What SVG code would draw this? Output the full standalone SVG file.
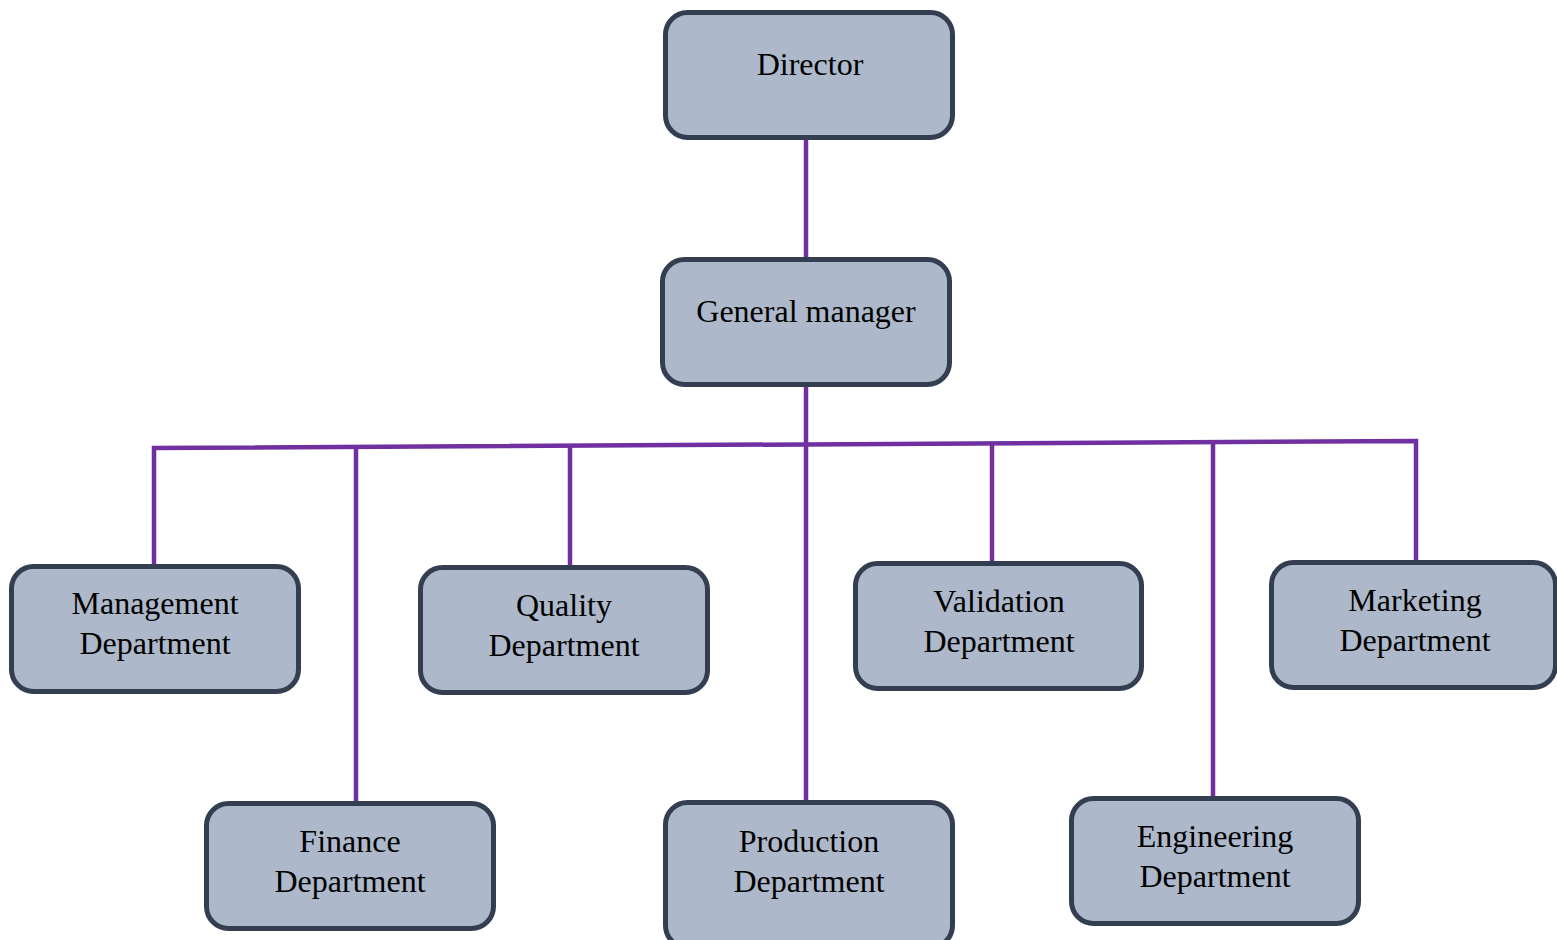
<svg xmlns="http://www.w3.org/2000/svg" width="1557" height="940" viewBox="0 0 1557 940">
<style>
.box{fill:#adb9ca;stroke:#333f50;stroke-width:5}
.lbl{font-family:"Liberation Serif","Times New Roman",serif;font-size:32px;fill:#000;text-anchor:middle}
.con{stroke:#7030a0;stroke-width:4.5;fill:none}
</style>
<rect width="1557" height="940" fill="#fff"/>
<g id="connectors">
<line class="con" x1="806" y1="137" x2="806" y2="259"/>
<line class="con" x1="806" y1="384" x2="806" y2="801"/>
<polyline class="con" points="154,566 154,448 1416,441 1416,562"/>
<line class="con" x1="356" y1="447" x2="356" y2="803"/>
<line class="con" x1="570" y1="446" x2="570" y2="567"/>
<line class="con" x1="992" y1="443" x2="992" y2="563"/>
<line class="con" x1="1213" y1="442" x2="1213" y2="798"/>
</g>
<g id="director"><rect class="box" x="665.5" y="12.5" width="287" height="125" rx="22"/><text class="lbl" x="810" y="75">Director</text></g>
<g id="general-manager"><rect class="box" x="662.5" y="259.5" width="287" height="125" rx="22"/><text class="lbl" x="806" y="322">General manager</text></g>
<g id="management"><rect class="box" x="11.5" y="566.5" width="287" height="125" rx="22"/><text class="lbl" x="155" y="614">Management</text><text class="lbl" x="155" y="654">Department</text></g>
<g id="quality"><rect class="box" x="420.5" y="567.5" width="287" height="125" rx="22"/><text class="lbl" x="564" y="616">Quality</text><text class="lbl" x="564" y="656">Department</text></g>
<g id="validation"><rect class="box" x="855.5" y="563.5" width="286" height="125" rx="22"/><text class="lbl" x="999" y="612">Validation</text><text class="lbl" x="999" y="652">Department</text></g>
<g id="marketing"><rect class="box" x="1271.5" y="562.5" width="284" height="125" rx="22"/><text class="lbl" x="1415" y="611">Marketing</text><text class="lbl" x="1415" y="651">Department</text></g>
<g id="finance"><rect class="box" x="206.5" y="803.5" width="287" height="125" rx="22"/><text class="lbl" x="350" y="852">Finance</text><text class="lbl" x="350" y="892">Department</text></g>
<g id="production"><rect class="box" x="665.5" y="802.5" width="287" height="145" rx="22"/><text class="lbl" x="809" y="852">Production</text><text class="lbl" x="809" y="892">Department</text></g>
<g id="engineering"><rect class="box" x="1071.5" y="798.5" width="287" height="125" rx="22"/><text class="lbl" x="1215" y="847">Engineering</text><text class="lbl" x="1215" y="887">Department</text></g>
</svg>
